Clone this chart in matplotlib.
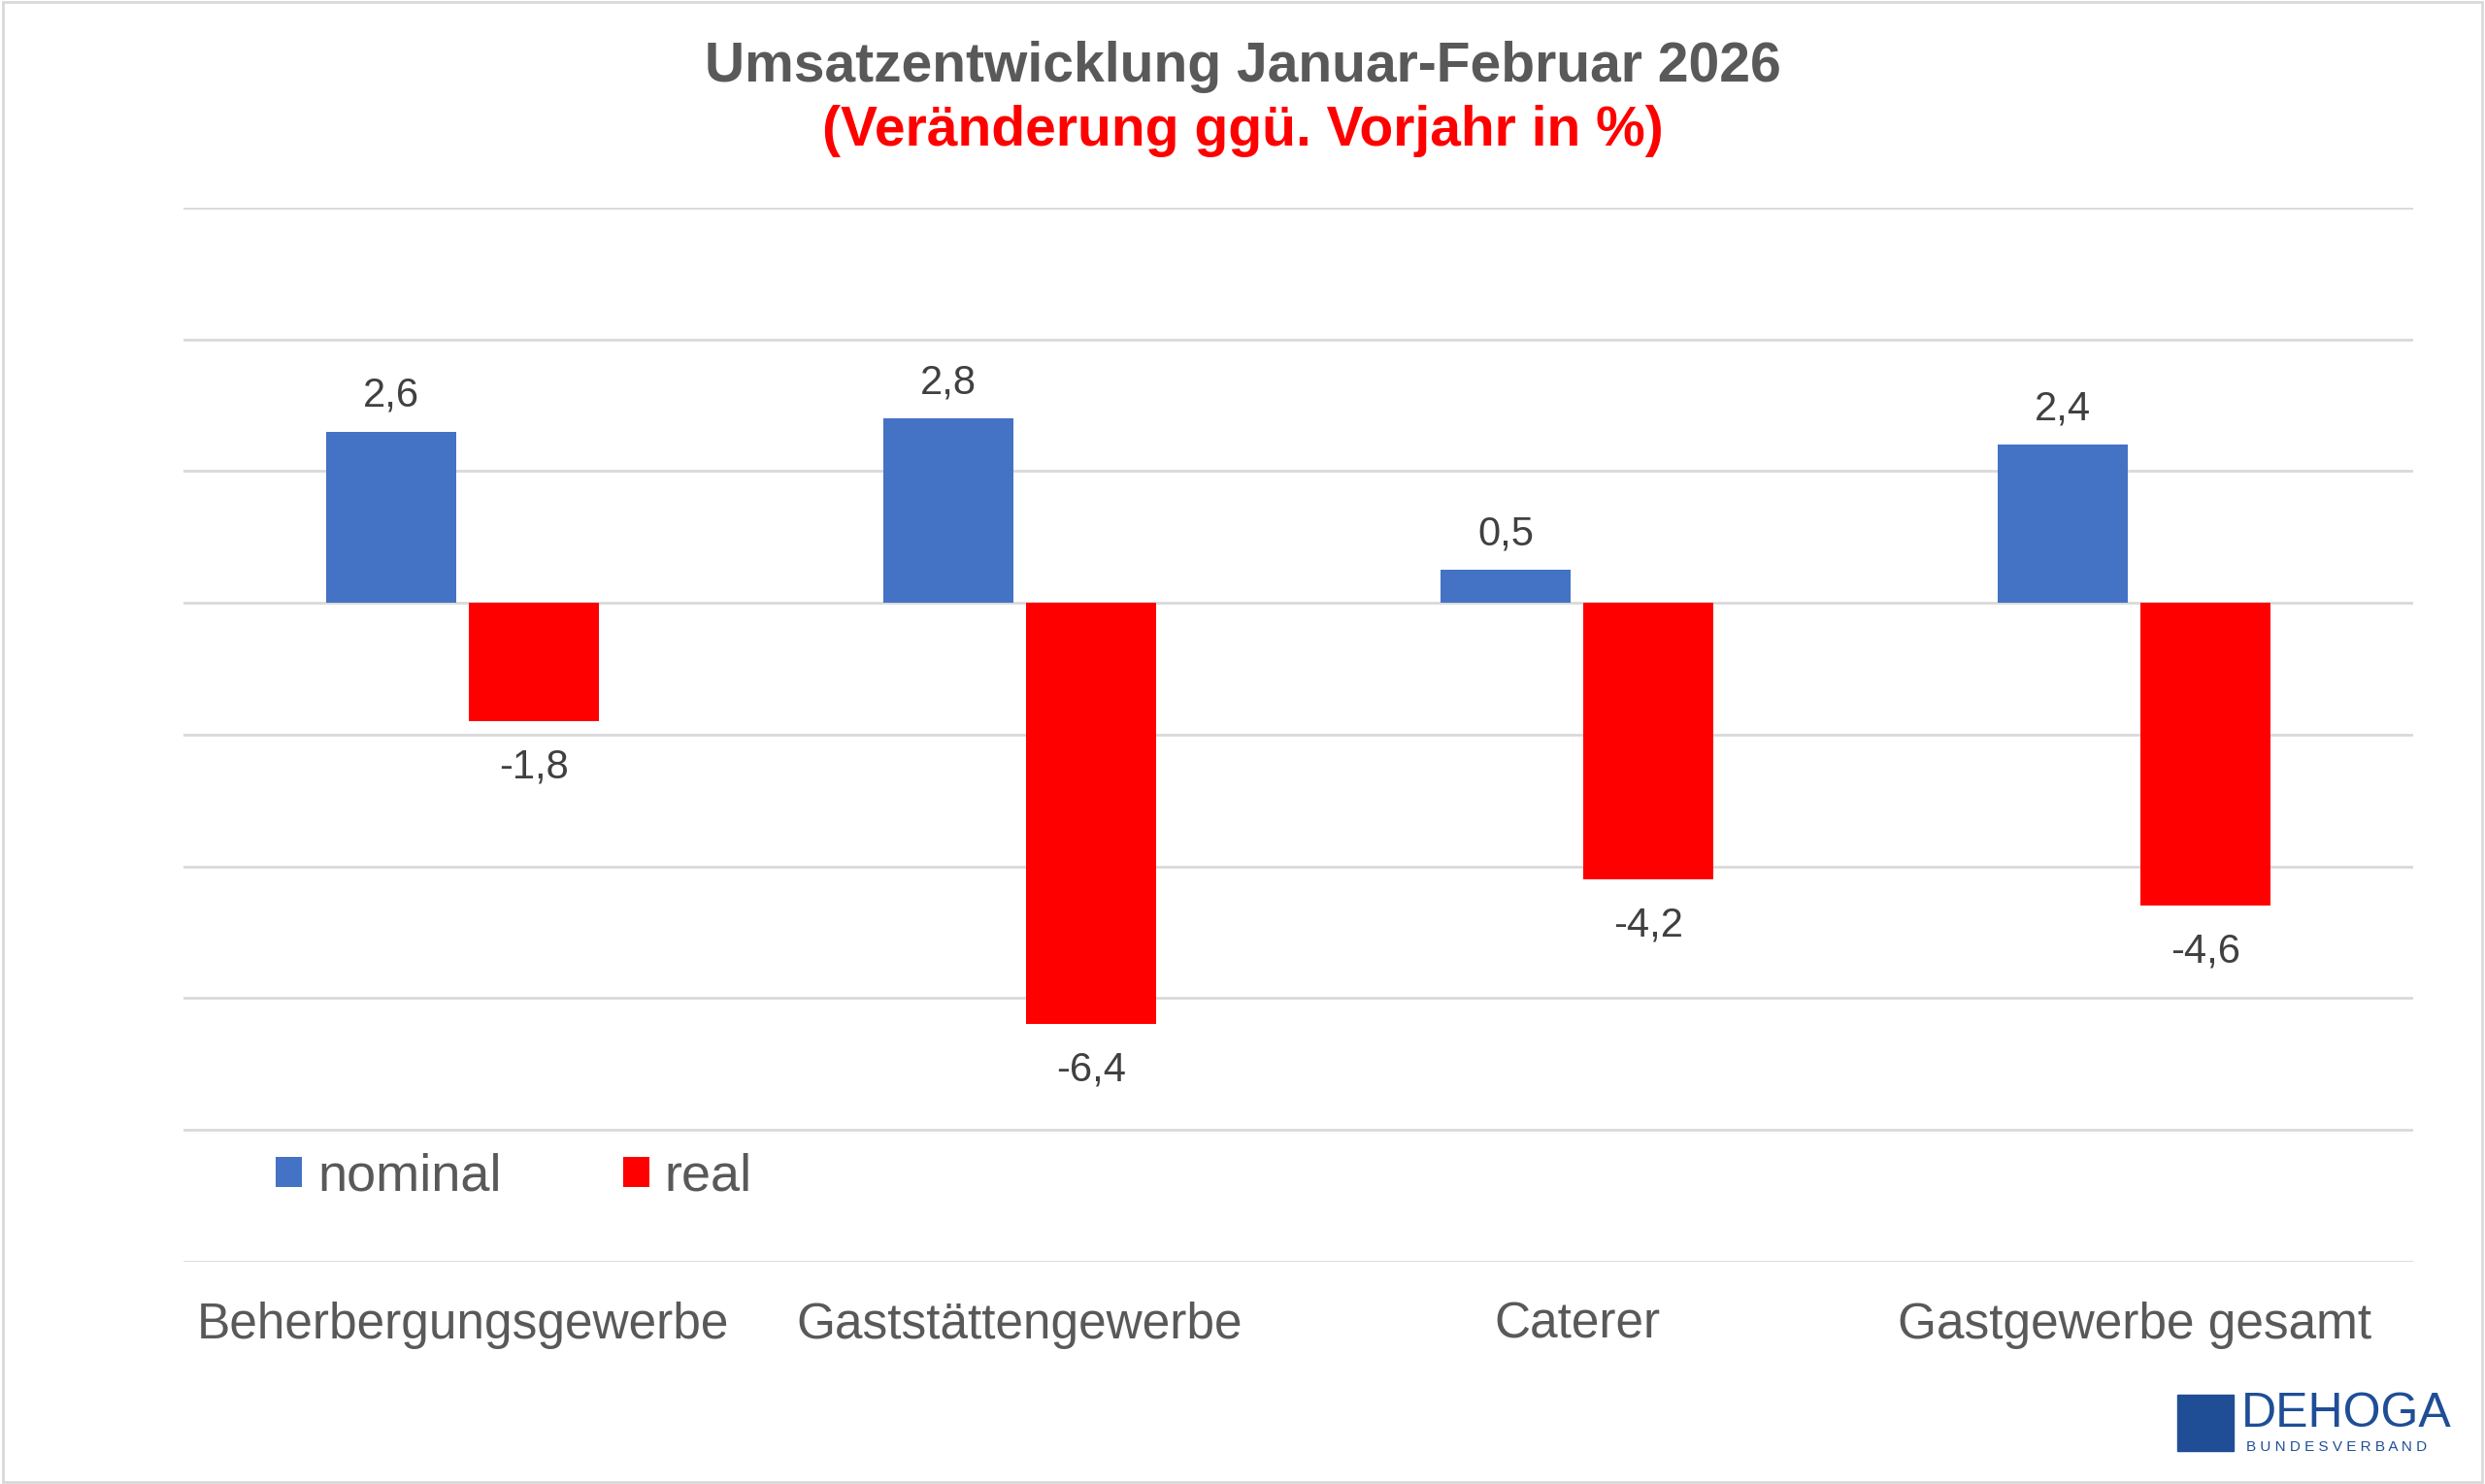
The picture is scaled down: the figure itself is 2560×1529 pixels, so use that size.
import numpy as np
import matplotlib.pyplot as plt
from matplotlib.patches import Rectangle

plt.rcParams['font.family'] = ['Liberation Sans', 'DejaVu Sans']

kategorien = ['Beherbergungsgewerbe', 'Gaststättengewerbe', 'Caterer', 'Gastgewerbe gesamt']
nominal = [2.6, 2.8, 0.5, 2.4]
real = [-1.8, -6.4, -4.2, -4.6]

blau = '#4472C4'
rot = '#FF0000'
grau = '#595959'

fig = plt.figure(figsize=(25.6, 15.29), dpi=100)
ax = fig.add_axes([0.074, 0.15, 0.897, 0.71])

x = np.arange(len(kategorien))
b = 0.233
ax.bar(x - 0.128, nominal, b, color=blau, label='nominal', zorder=3)
ax.bar(x + 0.128, real, b, color=rot, label='real', zorder=3)

for xi, v in zip(x, nominal):
    ax.text(xi - 0.128, v + 0.25, f'{v:.1f}'.replace('.', ','), ha='center', va='bottom', fontsize=30, color='#404040')
for xi, v in zip(x, real):
    ax.text(xi + 0.128, v - 0.4, f'{v:.1f}'.replace('.', ','), ha='center', va='top', fontsize=30, color='#404040')

ax.set_xlim(-0.5, 3.5)
ax.set_ylim(-10, 6)
ax.set_yticks(np.arange(-10, 7, 2))
ax.yaxis.grid(True, color='#D9D9D9', linewidth=2, zorder=0)
ax.tick_params(axis='y', left=False, labelleft=False)
ax.tick_params(axis='x', bottom=False, pad=26, labelsize=37, labelcolor=grau)
ax.set_xticks(x)
ax.set_xticklabels(kategorien)
for s in ax.spines.values():
    s.set_visible(False)

ax.legend(loc='lower left', bbox_to_anchor=(0.02, 0.012), ncol=2, frameon=False,
          fontsize=39, labelcolor=grau, handlelength=0.5, handleheight=0.5,
          handletextpad=0.3, columnspacing=2.3)

fig.text(0.5, 0.955, 'Umsatzentwicklung Januar-Februar 2026', ha='center', va='center',
         fontsize=41, fontweight='bold', color=grau)
fig.text(0.5, 0.912, '(Veränderung ggü. Vorjahr in %)', ha='center', va='center',
         fontsize=41, fontweight='bold', color=rot)

# Logo
fig.text(0.902, 0.047, 'DEHOGA', ha='left', va='center', fontsize=36, color='#1F4E96')
fig.text(0.904, 0.025, 'B U N D E S V E R B A N D', ha='left', va='center', fontsize=11, color='#1F4E96')
fig.patches.append(Rectangle((0.876, 0.022), 0.023, 0.038, transform=fig.transFigure, color='#1F4E96'))

fig.patches.append(Rectangle((0.001, 0.001), 0.998, 0.998, transform=fig.transFigure,
                             fill=False, edgecolor='#D9D9D9', linewidth=2))

fig.savefig('out.png', dpi=100, facecolor='white')
